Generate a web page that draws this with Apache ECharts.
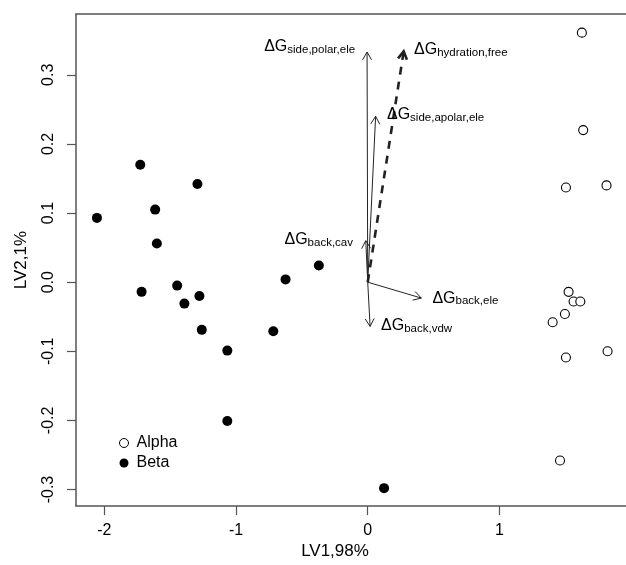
<!DOCTYPE html>
<html><head><meta charset="utf-8">
<script src="https://cdn.jsdelivr.net/npm/echarts@6/dist/echarts.min.js"></script>
<style>html,body{margin:0;padding:0;background:#fff}#c{width:626px;height:565px}</style>
</head><body><div id="c"></div>
<script>
// ---- data ----
const alphaX = [1.626, 1.636, 1.505, 1.813, 1.525, 1.563, 1.614, 1.497, 1.404, 1.821, 1.505, 1.460];
const alphaY = [0.361, 0.220, 0.137, 0.140, -0.014, -0.028, -0.028, -0.046, -0.058, -0.100, -0.109, -0.258];
const betaX = [-2.056, -1.727, -1.293, -1.614, -1.601, -0.371, -0.624, -1.717, -1.447, -1.392, -1.278, -1.260, -0.717, -1.066, -1.066, 0.124];
const betaY = [0.093, 0.170, 0.142, 0.105, 0.056, 0.024, 0.004, -0.014, -0.005, -0.031, -0.020, -0.069, -0.071, -0.099, -0.201, -0.298];
const arrowNames = ['side,polar,ele', 'hydration,free', 'side,apolar,ele', 'back,cav', 'back,ele', 'back,vdw'];
const arrowX = [-0.005, 0.273, 0.060, -0.015, 0.407, 0.018];
const arrowY = [0.333, 0.334, 0.240, 0.060, -0.023, -0.064];
const arrowDashed = [false, true, false, false, false, false];
const labelX = [-0.096, 0.352, 0.146, -0.112, 0.491, 0.101];
const labelY = [0.340, 0.336, 0.242, 0.061, -0.024, -0.064];
const labelAlign = ['right', 'left', 'left', 'right', 'left', 'left'];
const xTicks = [-2, -1, 0, 1];
const xTickLabels = ['-2', '-1', '0', '1'];
const yTicks = [-0.3, -0.2, -0.1, 0, 0.1, 0.2, 0.3];
const yTickLabels = ['-0.3', '-0.2', '-0.1', '0.0', '0.1', '0.2', '0.3'];
const xName = 'LV1,98%';
const yName = 'LV2,1%';

// ---- chart ----
const FONT = '"Liberation Sans", Arial, Helvetica, sans-serif';
const AX = '#555';
const chart = echarts.init(document.getElementById('c'), null, {renderer: 'canvas'});

function fmt(list, labels) {
  return function (v) {
    for (let i = 0; i < list.length; i++) if (Math.abs(list[i] - v) < 1e-9) return labels[i];
    return '';
  };
}

const arrowData = arrowX.map((x, i) => [x, arrowY[i], i]);

chart.setOption({
  animation: false,
  textStyle: {fontFamily: FONT, color: '#000'},
  grid: {left: 76, top: 14, right: 0, bottom: 58, containLabel: false},
  xAxis: [{
    type: 'value', min: -2.215, max: 1.961, position: 'bottom',
    name: xName, nameLocation: 'middle', nameGap: 33,
    nameTextStyle: {fontSize: 17, color: '#000', padding: [0, 32, 0, 0]},
    axisLine: {show: true, onZero: false, lineStyle: {color: AX, width: 1.5}},
    axisTick: {show: true, length: 9, customValues: xTicks, lineStyle: {color: AX, width: 1.2}},
    axisLabel: {customValues: xTicks, formatter: fmt(xTicks, xTickLabels), fontSize: 16, color: '#000', margin: 16},
    splitLine: {show: false}
  }, {
    type: 'value', min: -2.215, max: 1.961, position: 'top',
    axisLine: {show: true, onZero: false, lineStyle: {color: AX, width: 1.5}},
    axisTick: {show: false}, axisLabel: {show: false}, splitLine: {show: false}
  }],
  yAxis: {
    type: 'value', min: -0.324, max: 0.388, position: 'left',
    name: yName, nameLocation: 'middle', nameGap: 46, nameRotate: 90,
    nameTextStyle: {fontSize: 17, color: '#000'},
    axisLine: {show: true, onZero: false, lineStyle: {color: AX, width: 1.5}},
    axisTick: {show: true, length: 9, customValues: yTicks, lineStyle: {color: AX, width: 1.2}},
    axisLabel: {customValues: yTicks, formatter: fmt(yTicks, yTickLabels), fontSize: 16, color: '#000', rotate: 90, margin: 19},
    splitLine: {show: false}
  },
  legend: {
    orient: 'vertical', left: 114, top: 430, icon: 'circle',
    itemWidth: 9, itemHeight: 9, itemGap: 4,
    textStyle: {fontSize: 16, color: '#000', lineHeight: 16, padding: [0, 0, 0, 3]},
    data: [
      {name: 'Alpha', itemStyle: {color: '#fff', borderColor: '#000', borderWidth: 1}},
      {name: 'Beta', itemStyle: {color: '#000', borderWidth: 0}}
    ]
  },
  series: [{
    name: 'Alpha', type: 'scatter', symbol: 'circle', symbolSize: 9,
    itemStyle: {color: '#fff', borderColor: '#000', borderWidth: 1.1, opacity: 1},
    data: alphaX.map((x, i) => [x, alphaY[i]])
  }, {
    name: 'Beta', type: 'scatter', symbol: 'circle', symbolSize: 10,
    itemStyle: {color: '#000', opacity: 1},
    data: betaX.map((x, i) => [x, betaY[i]])
  }, {
    name: 'loadings', type: 'custom', clip: false, silent: true,
    data: arrowData,
    renderItem: function (params, api) {
      const i = api.value(2);
      const p0 = api.coord([0, 0]);
      const p1 = api.coord([api.value(0), api.value(1)]);
      const a = Math.atan2(p1[1] - p0[1], p1[0] - p0[0]);
      const L = 9, th = Math.PI / 6;
      const h1 = [p1[0] - L * Math.cos(a - th), p1[1] - L * Math.sin(a - th)];
      const h2 = [p1[0] - L * Math.cos(a + th), p1[1] - L * Math.sin(a + th)];
      const dashed = arrowDashed[i];
      const lw = dashed ? 2.6 : 1;
      const lp = api.coord([labelX[i], labelY[i]]);
      return {
        type: 'group',
        children: [{
          type: 'line',
          shape: {x1: p0[0], y1: p0[1], x2: p1[0], y2: p1[1]},
          style: {stroke: '#222', lineWidth: lw, lineDash: dashed ? [8, 7] : null, fill: null}
        }, {
          type: 'polyline',
          shape: {points: [h1, p1, h2]},
          style: {stroke: '#222', lineWidth: lw, fill: null}
        }, {
          type: 'text',
          x: lp[0], y: lp[1],
          style: {
            text: '{a|ΔG}{b|' + arrowNames[i] + '}',
            align: labelAlign[i], verticalAlign: 'middle',
            rich: {
              a: {fontSize: 16, lineHeight: 17, verticalAlign: 'top', fill: '#000', fontFamily: FONT},
              b: {fontSize: 11.5, lineHeight: 12, padding: [7, 0, 0, 0], verticalAlign: 'bottom', fill: '#000', fontFamily: FONT}
            }
          }
        }]
      };
    }
  }]
});
</script>
</body></html>
